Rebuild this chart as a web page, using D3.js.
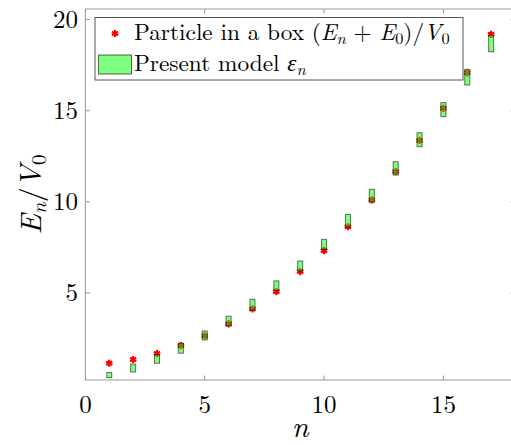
<!DOCTYPE html>
<html>
<head>
<meta charset="utf-8">
<script src="https://cdn.jsdelivr.net/npm/d3@7"></script>
<style>
  body { margin: 0; background: #fff; }
</style>
</head>
<body>
<svg width="511" height="445"></svg>
<script>
// data
var nVals = [1, 2, 3, 4, 5, 6, 7, 8, 9, 10, 11, 12, 13, 14, 15, 16, 17];
var boxModel = [1.14, 1.34, 1.67, 2.11, 2.64, 3.30, 4.12, 5.07, 6.17, 7.32, 8.63, 10.10, 11.65, 13.37, 15.13, 17.08, 19.19];
var modelLow = [0.35, 0.66, 1.14, 1.69, 2.42, 3.19, 4.06, 5.12, 6.20, 7.39, 8.62, 9.98, 11.47, 13.02, 14.67, 16.41, 18.23];
var modelHigh = [0.63, 1.09, 1.61, 2.24, 2.91, 3.72, 4.65, 5.66, 6.75, 7.94, 9.31, 10.69, 12.20, 13.79, 15.44, 17.27, 19.15];
var xTicks = [0, 5, 10, 15];
var yTicks = [5, 10, 15, 20];

var svg = d3.select("svg").style("font-family", "'Latin Modern Roman', 'Liberation Serif', serif");
var pl = 85.4, pr = 515, pt = 9, pb = 380;

var x = d3.scaleLinear().domain([0, 18]).range([pl, pr]);
var y = d3.scaleLinear().domain([0.22, 20.58]).range([pb, pt]);

var axisCol = "#999";
var tickLen = 4.5;

// frame
svg.append("rect")
  .attr("x", pl).attr("y", pt)
  .attr("width", pr - pl).attr("height", pb - pt)
  .attr("fill", "none").attr("stroke", axisCol).attr("stroke-width", 1);

// ticks (inward, on all four sides)
xTicks.forEach(function (t) {
  svg.append("line").attr("x1", x(t)).attr("x2", x(t)).attr("y1", pb).attr("y2", pb - tickLen).attr("stroke", axisCol);
  svg.append("line").attr("x1", x(t)).attr("x2", x(t)).attr("y1", pt).attr("y2", pt + tickLen).attr("stroke", axisCol);
  svg.append("text").attr("x", x(t)).attr("y", 413)
    .attr("text-anchor", "middle").attr("font-size", 25).text(t);
});
yTicks.forEach(function (t) {
  svg.append("line").attr("x1", pl).attr("x2", pl + tickLen).attr("y1", y(t)).attr("y2", y(t)).attr("stroke", axisCol);
  svg.append("line").attr("x1", pr).attr("x2", pr - tickLen).attr("y1", y(t)).attr("y2", y(t)).attr("stroke", axisCol);
  svg.append("text").attr("x", 78).attr("y", y(t) + 8.5)
    .attr("text-anchor", "end").attr("font-size", 25).text(t);
});

// particle in a box markers
var star = d3.symbol().type(d3.symbolAsterisk).size(36);
svg.selectAll(".pib")
  .data(nVals)
  .enter()
  .append("path")
  .attr("class", "pib")
  .attr("transform", function (d, i) { return "translate(" + x(d) + "," + y(boxModel[i]) + ")"; })
  .attr("d", star)
  .attr("fill", "none")
  .attr("stroke", "#ff0000")
  .attr("stroke-width", 2.2);

// present model boxes
var bw = 5;
svg.selectAll(".model")
  .data(nVals)
  .enter()
  .append("rect")
  .attr("class", "model")
  .attr("x", function (d) { return x(d) - bw / 2; })
  .attr("y", function (d, i) { return y(modelHigh[i]); })
  .attr("width", bw)
  .attr("height", function (d, i) { return y(modelLow[i]) - y(modelHigh[i]); })
  .attr("fill", "#00ff00").attr("fill-opacity", 0.5)
  .attr("stroke", "#000").attr("stroke-opacity", 0.55).attr("stroke-width", 1);

// legend
var lg = svg.append("g");
lg.append("rect")
  .attr("x", 95).attr("y", 17.5).attr("width", 368).attr("height", 62.5)
  .attr("fill", "#fff").attr("stroke", "#555").attr("stroke-width", 1);
lg.append("path")
  .attr("transform", "translate(115,33.5)")
  .attr("d", star)
  .attr("fill", "none").attr("stroke", "#ff0000").attr("stroke-width", 2.2);
lg.append("rect")
  .attr("x", 98.5).attr("y", 55).attr("width", 33).attr("height", 19)
  .attr("fill", "#00ff00").attr("fill-opacity", 0.5)
  .attr("stroke", "#000").attr("stroke-opacity", 0.6);

// parts: [text, flags]  i = italic, s = subscript
function mathText(sel, parts) {
  parts.forEach(function (p) {
    var f = p[1] || "";
    var t = sel.append("tspan").text(p[0]);
    if (f.indexOf("i") >= 0) t.attr("font-style", "italic");
    if (f.indexOf("s") >= 0) t.attr("font-size", "0.7em").attr("baseline-shift", "-22%");
  });
}

var l1 = lg.append("text").attr("x", 134).attr("y", 40).attr("font-size", 23.3);
mathText(l1, [["Particle in a box ("], ["E", "i"], ["n", "is"], [" + "], ["E", "i"], ["0", "s"], [")/"], ["V", "i"], ["0", "s"]]);
var l2 = lg.append("text").attr("x", 134).attr("y", 71).attr("font-size", 23.3);
mathText(l2, [["Present model "], ["\u03b5", "i"], ["n", "is"]]);

// axis labels
var yl = svg.append("text")
  .attr("transform", "translate(41," + ((pt + pb) / 2) + ") rotate(-90)")
  .attr("text-anchor", "middle").attr("font-size", 30);
mathText(yl, [["E", "i"], ["n", "is"], ["/"], ["V", "i"], ["0", "s"]]);

svg.append("text")
  .attr("x", (pl + pr) / 2).attr("y", 437)
  .attr("text-anchor", "middle").attr("font-size", 30).attr("font-style", "italic")
  .text("n");
</script>
</body>
</html>
